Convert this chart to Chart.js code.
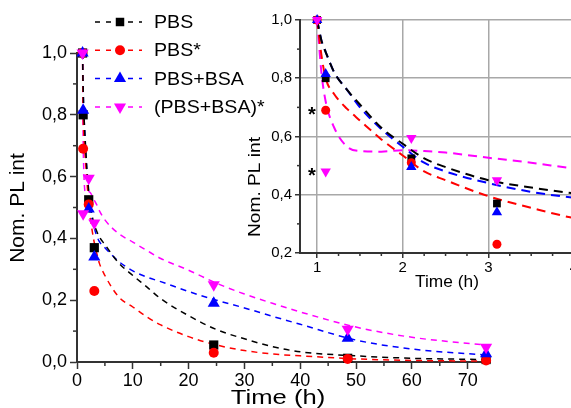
<!DOCTYPE html>
<html>
<head>
<meta charset="utf-8">
<script src="https://cdn.jsdelivr.net/npm/chart.js@4.4.1/dist/chart.umd.min.js"></script>
<style>
  html, body { margin: 0; padding: 0; background: #fff; overflow: hidden; }
  #wrap { position: relative; width: 571px; height: 408px; overflow: hidden; }
  #main { position: absolute; left: 0; top: 0; }
  #inset { position: absolute; left: 240px; top: 0; }
</style>
</head>
<body>
<div id="wrap">
  <canvas id="main" width="571" height="408"></canvas>
  <canvas id="inset" width="340" height="300"></canvas>
</div>
<script>
// measured points (time in h, normalised PL intensity)
const time = [1, 1.1, 2.1, 3.1, 24.5, 48.5, 73.3];
const pbs = [1.0, 0.80, 0.525, 0.37, 0.055, 0.012, 0.008];
const pbsStar = [1.0, 0.69, 0.51, 0.23, 0.03, 0.01, 0.005];
const pbsBsa = [1.0, 0.815, 0.495, 0.34, 0.19, 0.077, 0.027];
const pbsBsaStar = [1.0, 0.48, 0.595, 0.45, 0.25, 0.106, 0.048];

// fitted curves
const fitTime = [1, 1.05, 1.1, 1.2, 1.35, 1.5, 1.75, 2, 2.25, 2.5, 3, 3.5, 4, 5, 7.5, 10, 12.5, 15, 20, 25, 30, 35, 40, 50, 60, 73];
const fitPbs = [1, 0.93, 0.89, 0.82, 0.76, 0.71, 0.63, 0.575, 0.525, 0.495, 0.45, 0.425, 0.405, 0.38, 0.32, 0.28, 0.243, 0.205, 0.15, 0.105, 0.075, 0.05, 0.033, 0.02, 0.012, 0.008];
const fitPbsStar = [1, 0.88, 0.8, 0.745, 0.695, 0.655, 0.59, 0.535, 0.48, 0.45, 0.395, 0.355, 0.32, 0.28, 0.21, 0.178, 0.146, 0.12, 0.082, 0.055, 0.037, 0.026, 0.02, 0.01, 0.005, 0.003];
const fitPbsBsa = [1, 0.93, 0.89, 0.82, 0.76, 0.70, 0.625, 0.565, 0.51, 0.48, 0.44, 0.41, 0.39, 0.37, 0.325, 0.295, 0.275, 0.26, 0.228, 0.2, 0.175, 0.148, 0.122, 0.071, 0.042, 0.023];
const fitPbsBsaStar = [1, 0.82, 0.72, 0.63, 0.565, 0.55, 0.548, 0.553, 0.55, 0.545, 0.527, 0.51, 0.49, 0.46, 0.415, 0.388, 0.361, 0.335, 0.297, 0.255, 0.22, 0.19, 0.162, 0.113, 0.08, 0.055];

// asterisk marks in the inset (next to the starred 1.1 h points)
const starTime = [0.94, 0.94];
const starValue = [0.69, 0.48];

const seriesNames = ['PBS', 'PBS*', 'PBS+BSA', '(PBS+BSA)*'];
const seriesValues = [pbs, pbsStar, pbsBsa, pbsBsaStar];
const seriesFits = [fitPbs, fitPbsStar, fitPbsBsa, fitPbsBsaStar];
const seriesColors = ['#000000', '#ff0000', '#0000ff', '#ff00ff'];
const seriesMarkers = ['rect', 'circle', 'triangle', 'down'];
const drawOrder = [4, 3, 2, 1];

const FONT = "'Liberation Sans', Arial, sans-serif";
const comma = (v, d) => Number(v).toFixed(d).replace('.', ',');

function drawMarker(ctx, style, x, y, r, color) {
  ctx.fillStyle = color;
  ctx.beginPath();
  if (style === 'rect') {
    const s = r / Math.SQRT2;
    ctx.rect(x - s, y - s, 2 * s, 2 * s);
  } else if (style === 'circle') {
    ctx.arc(x, y, r, 0, Math.PI * 2);
  } else {
    const d = style === 'down' ? -1 : 1;
    const w = r * Math.sin(Math.PI / 3);
    ctx.moveTo(x, y - d * r);
    ctx.lineTo(x + w, y + d * r / 2);
    ctx.lineTo(x - w, y + d * r / 2);
    ctx.closePath();
  }
  ctx.fill();
}

// small minor ticks between the labelled ones
const minorTicks = {
  id: 'minorTicks',
  afterDraw(chart, args, opts) {
    const ctx = chart.ctx;
    const area = chart.chartArea;
    ctx.save();
    ctx.strokeStyle = '#333';
    ctx.lineWidth = 1.5;
    ['x', 'y'].forEach(id => {
      const s = chart.scales[id];
      const n = opts[id];
      const t = s.ticks.map(k => k.value);
      const step = (t[1] - t[0]) / n;
      for (let k = -n; k < t.length * n + n; k++) {
        if (k % n === 0) continue;
        const v = t[0] + k * step;
        if (v < s.min - 1e-9 || v > s.max + 1e-9) continue;
        const p = s.getPixelForValue(v);
        ctx.beginPath();
        if (id === 'x') { ctx.moveTo(p, area.bottom); ctx.lineTo(p, area.bottom + opts.len); }
        else { ctx.moveTo(area.left - opts.len, p); ctx.lineTo(area.left, p); }
        ctx.stroke();
      }
    });
    ctx.restore();
  }
};

// axis titles placed where the original has them
const axisTitles = {
  id: 'axisTitles',
  afterDraw(chart, args, opts) {
    const ctx = chart.ctx;
    ctx.save();
    ctx.fillStyle = '#000';
    ctx.textAlign = 'center';
    ctx.textBaseline = 'middle';
    opts.items.forEach(it => {
      ctx.save();
      ctx.font = it.size + 'px ' + FONT;
      ctx.translate(it.x, it.y);
      if (it.rot) ctx.rotate(-Math.PI / 2);
      ctx.scale(it.stretch || 1, 1);
      ctx.fillText(it.text, 0, 0);
      ctx.restore();
    });
    ctx.restore();
  }
};

const legendBox = {
  id: 'legendBox',
  afterDraw(chart) {
    const ctx = chart.ctx;
    ctx.save();
    seriesNames.forEach((name, i) => {
      const y = 22 + i * 28.3;
      ctx.strokeStyle = seriesColors[i];
      ctx.lineWidth = 1.5;
      ctx.setLineDash([5, 6]);
      ctx.beginPath();
      ctx.moveTo(95, y);
      ctx.lineTo(142, y);
      ctx.stroke();
      ctx.setLineDash([]);
      const r = seriesMarkers[i] === 'rect' ? 6 : seriesMarkers[i] === 'circle' ? 5 : 7;
      drawMarker(ctx, seriesMarkers[i], 120, y, r, seriesColors[i]);
      ctx.save();
      ctx.fillStyle = '#000';
      ctx.font = '18.5px ' + FONT;
      ctx.textBaseline = 'middle';
      ctx.translate(154, y + 1);
      ctx.scale(1.06, 1);
      ctx.fillText(name, 0, 0);
      ctx.restore();
    });
    ctx.restore();
  }
};

const starMarks = {
  id: 'starMarks',
  afterDraw(chart) {
    const ctx = chart.ctx;
    ctx.save();
    ctx.fillStyle = '#000';
    ctx.font = 'bold 20px ' + FONT;
    ctx.textAlign = 'center';
    ctx.textBaseline = 'middle';
    starValue.forEach((v, i) => {
      ctx.fillText('*', chart.scales.x.getPixelForValue(starTime[i]), chart.scales.y.getPixelForValue(v) + 5);
    });
    ctx.restore();
  }
};

function buildDatasets(sizes, dash, lw) {
  const sets = [];
  seriesNames.forEach((name, i) => {
    sets.push({
      label: name + ' fit',
      data: fitTime.map((t, j) => ({ x: t, y: seriesFits[i][j] })),
      showLine: true,
      borderColor: seriesColors[i],
      borderWidth: lw,
      borderDash: dash,
      pointRadius: 0,
      cubicInterpolationMode: 'monotone',
      order: 10
    });
  });
  seriesNames.forEach((name, i) => {
    const m = seriesMarkers[i];
    sets.push({
      label: name,
      data: time.map((t, j) => ({ x: t, y: seriesValues[i][j] })),
      showLine: false,
      pointStyle: m === 'rect' ? 'rect' : m === 'circle' ? 'circle' : 'triangle',
      pointRotation: m === 'down' ? 180 : 0,
      pointRadius: sizes[m],
      pointBackgroundColor: seriesColors[i],
      pointBorderColor: seriesColors[i],
      pointBorderWidth: 0,
      clip: false,
      order: drawOrder[i]
    });
  });
  return sets;
}

Chart.defaults.font.family = FONT;
Chart.defaults.color = '#000';

new Chart(document.getElementById('main'), {
  type: 'scatter',
  data: { datasets: buildDatasets({ rect: 6.5, circle: 5, triangle: 7, down: 7 }, [6, 5], 1.5) },
  options: {
    responsive: false,
    animation: false,
    layout: { padding: { left: 0, right: 81, top: 53, bottom: 0 } },
    plugins: {
      legend: { display: false },
      tooltip: { enabled: false },
      minorTicks: { x: 2, y: 2, len: 4 },
      axisTitles: { items: [
        { text: 'Time (h)', x: 278, y: 398, size: 20, stretch: 1.28 },
        { text: 'Nom. PL int', x: 18, y: 208, size: 21, rot: true }
      ] }
    },
    scales: {
      x: {
        type: 'linear', min: 0, max: 74,
        border: { display: true, color: '#333', width: 2 },
        grid: { drawOnChartArea: false, tickLength: 7, tickColor: '#333', tickWidth: 1.5 },
        ticks: { stepSize: 10, includeBounds: false, padding: 1, maxRotation: 0, font: { size: 18 }, callback: v => String(v) },
        afterFit: s => { s.height = 46; }
      },
      y: {
        type: 'linear', min: 0, max: 1,
        border: { display: true, color: '#333', width: 2 },
        grid: { drawOnChartArea: false, tickLength: 7, tickColor: '#333', tickWidth: 1.5 },
        ticks: { stepSize: 0.2, padding: 3, font: { size: 18 }, callback: v => comma(v, 1) },
        afterFit: s => { s.width = 77; }
      }
    }
  },
  plugins: [minorTicks, legendBox, axisTitles]
});

new Chart(document.getElementById('inset'), {
  type: 'scatter',
  data: { datasets: buildDatasets({ rect: 5.5, circle: 4.5, triangle: 6, down: 6 }, [9, 6], 2) },
  options: {
    responsive: false,
    animation: false,
    layout: { padding: { left: 0, right: 6, top: 20, bottom: 0 } },
    plugins: {
      legend: { display: false },
      tooltip: { enabled: false },
      minorTicks: { x: 4, y: 2, len: 3 },
      axisTitles: { items: [
        { text: 'Time (h)', x: 207, y: 282, size: 16.5, stretch: 1.05 },
        { text: 'Nom. PL int', x: 15, y: 187, size: 16.5, rot: true, stretch: 1.16 }
      ] }
    },
    scales: {
      x: {
        type: 'linear', min: 0.8, max: 4,
        border: { display: true, color: '#333', width: 2 },
        grid: { drawOnChartArea: true, color: '#a8a8a8', lineWidth: 1.5, tickLength: 5, tickColor: '#333', tickWidth: 1.5 },
        ticks: { stepSize: 1, includeBounds: false, padding: 1, maxRotation: 0, font: { size: 15 }, callback: v => String(v) },
        afterFit: s => { s.height = 47; }
      },
      y: {
        type: 'linear', min: 0.2, max: 1,
        border: { display: true, color: '#333', width: 2 },
        grid: { drawOnChartArea: true, color: '#a8a8a8', lineWidth: 1.5, tickLength: 5, tickColor: '#333', tickWidth: 1.5 },
        ticks: { stepSize: 0.2, padding: 3, font: { size: 15 }, callback: v => comma(v, 1) },
        afterFit: s => { s.width = 60; }
      }
    }
  },
  plugins: [minorTicks, starMarks, axisTitles]
});
</script>
</body>
</html>
